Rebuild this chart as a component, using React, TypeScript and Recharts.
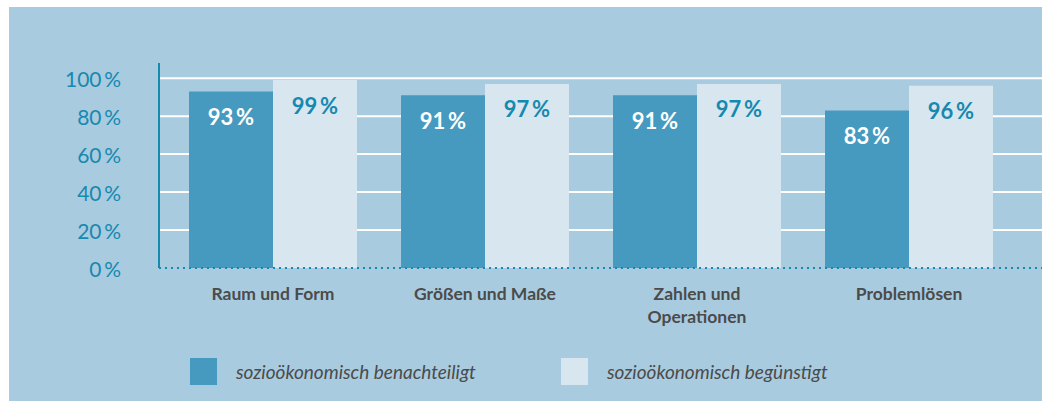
import React from "react";
import { BarChart, Bar, XAxis, YAxis, CartesianGrid, LabelList } from "recharts";

const categories = ["Raum und Form", "Größen und Maße", "Zahlen und\nOperationen", "Problemlösen"];
const benachteiligt = [93, 91, 91, 83];
const beguenstigt = [99, 97, 97, 96];
const yTicks = [0, 20, 40, 60, 80, 100];
const seriesNames = ["sozioökonomisch benachteiligt", "sozioökonomisch begünstigt"];

const data = categories.map((c, i) => ({ name: c, a: benachteiligt[i], b: beguenstigt[i] }));

const BG = "#a9cbdf";
const DARK = "#469abf";
const LIGHT = "#d8e6ef";
const TEAL = "#1689b0";
const GRAY = "#4b4b4b";
const FONT = "Lato, 'Open Sans', sans-serif";

const pct = (v: number) => `${v}\u2009%`;

const makeLabel = (color: string) => (props: any) => {
  const { x, y, width, value } = props;
  return (
    <text
      x={Number(x) + Number(width) / 2}
      y={Number(y) + 25}
      textAnchor="middle"
      dominantBaseline="central"
      fill={color}
      fontFamily={FONT}
      fontWeight={700}
      fontSize={22}
    >
      {pct(value)}
    </text>
  );
};

const XTick = (props: any) => {
  const { x, y, payload } = props;
  const lines = String(payload.value).split("\n");
  return (
    <text x={x} y={y} textAnchor="middle" fill={GRAY} fontFamily={FONT} fontWeight={700} fontSize={17.5}>
      {lines.map((l, i) => (
        <tspan key={i} x={x} y={Number(y) + 24 + i * 23}>
          {l}
        </tspan>
      ))}
    </text>
  );
};

const YTick = (props: any) => {
  const { x, y, payload } = props;
  return (
    <text x={x} y={y} textAnchor="end" dominantBaseline="central" fill={TEAL} fontFamily={FONT} fontSize={21}>
      {pct(payload.value)}
    </text>
  );
};

const LegendBlock = () => {
  const items = [
    { color: DARK, name: seriesNames[0], left: 190 },
    { color: LIGHT, name: seriesNames[1], left: 561 },
  ];
  return (
    <>
      {items.map((it) => (
        <React.Fragment key={it.name}>
          <div style={{ position: "absolute", left: it.left, top: 358, width: 27, height: 27, background: it.color }} />
          <div
            style={{
              position: "absolute",
              left: it.left + 46,
              top: 358,
              height: 27,
              lineHeight: "27px",
              fontFamily: FONT,
              fontStyle: "italic",
              fontSize: 19,
              color: GRAY,
              whiteSpace: "nowrap",
            }}
          >
            {it.name}
          </div>
        </React.Fragment>
      ))}
    </>
  );
};

export default function App() {
  return (
    <div style={{ position: "absolute", left: 0, top: 0, width: 1042, height: 401, background: "#fff" }}>
      <div style={{ position: "absolute", left: 9, top: 7, width: 1033, height: 394, background: BG, overflow: "hidden" }}>
        <div style={{ position: "absolute", left: -9, top: -7, width: 1042, height: 401 }}>
          <BarChart
            width={1042}
            height={401}
            data={data}
            margin={{ top: 63, right: 0, bottom: 103, left: 0 }}
            barCategoryGap={22}
            barGap={0}
          >
            <CartesianGrid vertical={false} stroke="#ffffff" strokeWidth={2} horizontalValues={[20, 40, 60, 80, 100]} />
            <XAxis
              dataKey="name"
              height={30}
              padding={{ left: 8, right: 27 }}
              axisLine={{ stroke: TEAL, strokeWidth: 2, strokeDasharray: "2 4" }}
              tickLine={false}
              tick={<XTick />}
              interval={0}
            />
            <YAxis
              width={159}
              domain={[0, 108]}
              ticks={yTicks}
              interval={0}
              axisLine={{ stroke: TEAL, strokeWidth: 2 }}
              tickLine={false}
              tickSize={0}
              tickMargin={38}
              tick={<YTick />}
            />
            <Bar dataKey="a" name={seriesNames[0]} fill={DARK} isAnimationActive={false}>
              <LabelList dataKey="a" content={makeLabel("#ffffff")} />
            </Bar>
            <Bar dataKey="b" name={seriesNames[1]} fill={LIGHT} isAnimationActive={false}>
              <LabelList dataKey="b" content={makeLabel(TEAL)} />
            </Bar>
          </BarChart>
          <LegendBlock />
        </div>
      </div>
    </div>
  );
}
